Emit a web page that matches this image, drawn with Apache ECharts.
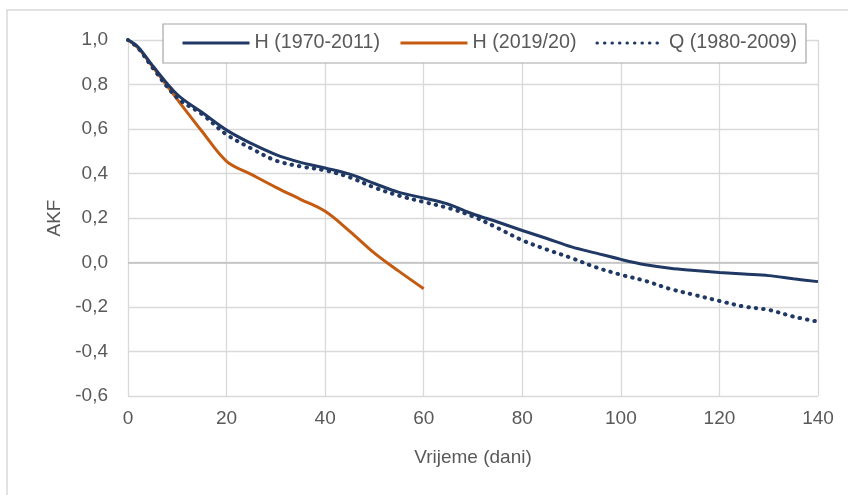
<!DOCTYPE html>
<html>
<head>
<meta charset="utf-8">
<script src="https://cdn.jsdelivr.net/npm/echarts@6/dist/echarts.min.js"></script>
<style>
  html, body { margin: 0; padding: 0; background: #fff; }
  #main { width: 848px; height: 495px; }
</style>
</head>
<body>
<div id="main"></div>
<script>
// dani (lag)
var days = [0, 2, 5, 10, 15, 20, 25, 30, 35, 40, 45, 50, 55, 60, 65, 70, 75, 80, 85, 90, 95, 100, 105, 110, 115, 120, 125, 130, 135, 140];
// AKF vrijednosti
var hLong = [1.0, 0.97, 0.885, 0.755, 0.675, 0.595, 0.535, 0.485, 0.45, 0.425, 0.397, 0.355, 0.315, 0.29, 0.262, 0.218, 0.182, 0.144, 0.108, 0.07, 0.042, 0.014, -0.01, -0.026, -0.036, -0.045, -0.052, -0.059, -0.073, -0.086];
var hShort = [1.0, 0.965, 0.88, 0.733, 0.59, 0.455, 0.396, 0.338, 0.284, 0.23, 0.14, 0.042, -0.04, -0.118];
var qLong = [1.0, 0.965, 0.875, 0.74, 0.667, 0.575, 0.513, 0.458, 0.432, 0.414, 0.383, 0.337, 0.3, 0.272, 0.245, 0.207, 0.155, 0.1, 0.058, 0.02, -0.022, -0.055, -0.083, -0.119, -0.146, -0.173, -0.198, -0.213, -0.243, -0.266];
var seriesNames = ['H (1970-2011)', 'H (2019/20)', 'Q (1980-2009)'];

function pairs(xs, ys) {
  return ys.map(function (y, i) { return [xs[i], y]; });
}

var font = 'Liberation Sans';
var textColor = '#595959';
var gridColor = '#D9D9D9';

var myChart = echarts.init(document.getElementById('main'));

var option = {
  backgroundColor: '#fff',
  textStyle: { fontFamily: font },
  animation: false,
  graphic: [{
    type: 'rect',
    shape: { x: 7, y: 10, width: 860, height: 500 },
    style: { fill: 'none', stroke: '#D9D9D9', lineWidth: 1.5 },
    silent: true,
    z: -1
  }],
  grid: { left: 128, right: 30, top: 40, bottom: 99 },
  legend: {
    data: seriesNames,
    left: 163,
    top: 24,
    padding: [9, 9, 10, 18],
    itemGap: 19,
    itemWidth: 67,
    itemHeight: 14,
    backgroundColor: '#fff',
    borderColor: '#A6A6A6',
    borderWidth: 1.2,
    itemStyle: { color: 'transparent', borderWidth: 0, opacity: 0 },
    lineStyle: { width: 3 },
    textStyle: { fontFamily: font, fontSize: 19.7, color: textColor }
  },
  xAxis: {
    type: 'value',
    min: 0,
    max: 140,
    interval: 20,
    name: 'Vrijeme (dani)',
    nameLocation: 'middle',
    nameGap: 52,
    nameTextStyle: { fontFamily: font, fontSize: 19, color: textColor },
    axisLine: { show: false },
    axisTick: { show: false },
    axisLabel: { fontFamily: font, fontSize: 19, color: textColor, margin: 13 },
    splitLine: { show: true, lineStyle: { color: gridColor, width: 1.3 } }
  },
  yAxis: {
    type: 'value',
    min: -0.6,
    max: 1.0,
    interval: 0.2,
    name: 'AKF',
    nameLocation: 'middle',
    nameGap: 54,
    nameTextStyle: { fontFamily: font, fontSize: 19, color: textColor },
    axisLine: { show: false },
    axisTick: { show: false },
    axisLabel: {
      fontFamily: font, fontSize: 19, color: textColor, margin: 20,
      formatter: function (v) { return v.toFixed(1).replace('.', ','); }
    },
    splitLine: { show: true, lineStyle: { color: gridColor, width: 1.3 } }
  },
  series: [
    {
      name: seriesNames[0],
      type: 'line',
      data: pairs(days, hLong),
      smooth: 0.35,
      symbol: 'none',
      z: 4,
      lineStyle: { color: '#203864', width: 3 },
      itemStyle: { color: '#203864' },
      markLine: {
        silent: true,
        symbol: 'none',
        label: { show: false },
        lineStyle: { color: '#BFBFBF', width: 1.5, type: 'solid' },
        data: [{ yAxis: 0 }],
        z: 1
      }
    },
    {
      name: seriesNames[1],
      type: 'line',
      data: pairs(days, hShort),
      smooth: 0.35,
      symbol: 'none',
      z: 3,
      lineStyle: { color: '#C55A11', width: 3 },
      itemStyle: { color: '#C55A11' }
    },
    {
      name: seriesNames[2],
      type: 'line',
      data: pairs(days, qLong),
      smooth: 0.35,
      symbol: 'none',
      z: 3,
      lineStyle: { color: '#203864', width: 4, type: [0.5, 7], cap: 'round' },
      itemStyle: { color: '#203864' }
    }
  ]
};

myChart.setOption(option);
</script>
</body>
</html>
